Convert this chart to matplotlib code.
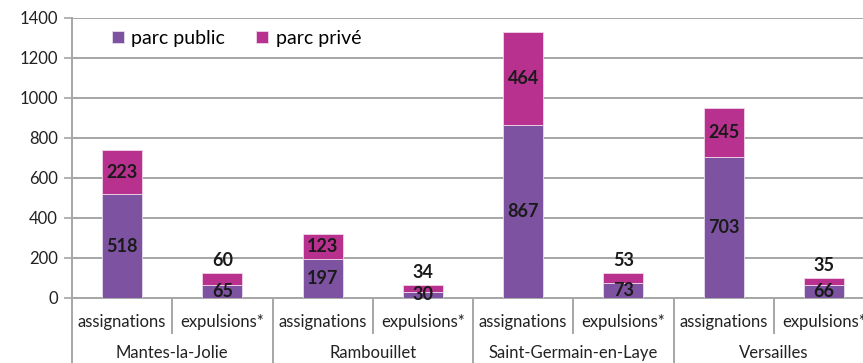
import matplotlib.pyplot as plt
import numpy as np

plt.rcParams['font.family'] = ['Lato', 'DejaVu Sans']

villes = ["Mantes-la-Jolie", "Rambouillet", "Saint-Germain-en-Laye", "Versailles"]
types = ["assignations", "expulsions*"]
parc_public = [518, 65, 197, 30, 867, 73, 703, 66]
parc_prive = [223, 60, 123, 34, 464, 53, 245, 35]

c_public = "#7d52a0"
c_prive = "#b8318f"
c_grid = "#a6a6a6"

fig = plt.figure(figsize=(8.63, 3.63), dpi=100)
ax = fig.add_axes([72 / 863, 65 / 363, 802 / 863, 280 / 363])

x = np.arange(len(parc_public))
pub = np.array(parc_public)
pri = np.array(parc_prive)

ax.bar(x, pub, width=0.4, color=c_public, edgecolor="#e8dcef", linewidth=0.6,
       label="parc public", zorder=3)
ax.bar(x, pri, width=0.4, bottom=pub, color=c_prive, edgecolor="#f0d6e8",
       linewidth=0.6, label="parc privé", zorder=3)

ax.set_xlim(-0.5, 7.5)
ax.set_ylim(0, 1400)
ax.set_yticks(range(0, 1401, 200))
ax.yaxis.grid(True, color=c_grid, linewidth=1.4, zorder=0)
ax.set_xticks([])
ax.tick_params(axis="y", length=6, width=1.2, color=c_grid, labelsize=12,
               pad=4, labelcolor="#222222")
for s in ["top", "right"]:
    ax.spines[s].set_visible(False)
for s in ["left", "bottom"]:
    ax.spines[s].set_color(c_grid)
    ax.spines[s].set_linewidth(1.4)

# value labels
lab = dict(ha="center", fontsize=13, fontweight="bold", color="#1a1a1a", zorder=5)
for i in x:
    ax.text(i, pub[i] / 2, str(pub[i]), va="center", **lab)
    if i % 2 == 0:
        ax.text(i, pub[i] + pri[i] / 2, str(pri[i]), va="center", **lab)
    else:
        ax.annotate(str(pri[i]), (i, pub[i] + pri[i]), xytext=(0, 3),
                    textcoords="offset points", va="bottom", **lab)

# two-level category axis
tr = ax.get_xaxis_transform()
for i in x:
    ax.text(i, -0.086, types[i % 2], transform=tr, ha="center", va="center",
            fontsize=12, color="#222222")
for g, v in enumerate(villes):
    ax.text(2 * g + 0.5, -0.196, v, transform=tr, ha="center", va="center",
            fontsize=12, color="#222222")
for g in range(4):
    ax.plot([2 * g + 0.5] * 2, [0, -0.125], transform=tr, color=c_grid,
            linewidth=1.4, clip_on=False)
    ax.plot([2 * g - 0.5] * 2, [0, -0.25], transform=tr, color=c_grid,
            linewidth=1.4, clip_on=False)

ax.legend(loc="upper left", bbox_to_anchor=(0.028, 1.02), ncol=2, frameon=False,
          fontsize=14, handlelength=0.6, handleheight=0.6, handletextpad=0.4,
          columnspacing=1.6)

fig.savefig("out.png", dpi=100)
